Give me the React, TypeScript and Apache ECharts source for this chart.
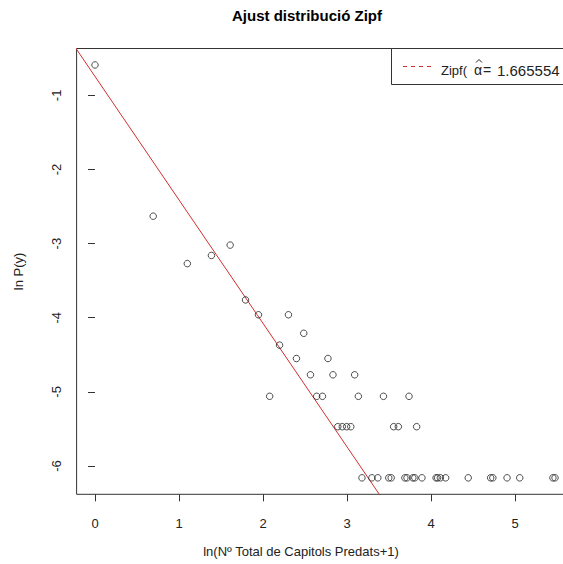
import React, { useEffect, useRef } from "react";
import * as echarts from "echarts";

const TITLE = "Ajust distribució Zipf";
const X_NAME = "ln(Nº Total de Capitols Predats+1)";
const Y_NAME = "ln P(y)";
const X_TICKS = [0, 1, 2, 3, 4, 5];
const Y_TICKS = [-6, -5, -4, -3, -2, -1];
const X_RANGE = [-0.219, 5.695];
const Y_RANGE = [-6.382, -0.368];

// observed points: x = ln(N+1), y = ln P(y)
const X_OBS = [
  0, 0.693, 1.099, 1.386, 1.609, 1.792, 1.946, 2.079, 2.197, 2.303, 2.398, 2.485,
  2.565, 2.639, 2.708, 2.773, 2.833, 2.89, 2.944, 2.996, 3.045, 3.091, 3.135,
  3.434, 3.555, 3.611, 3.738, 3.829,
  3.178, 3.296, 3.367, 3.497, 3.526, 3.689, 3.714, 3.784, 3.807, 3.892, 4.06,
  4.078, 4.111, 4.174, 4.443, 4.71, 4.736, 4.905, 5.056, 5.451, 5.476,
];
const Y_OBS = [
  -0.59, -2.63, -3.27, -3.16, -3.02, -3.76, -3.96, -5.06, -4.37, -3.96, -4.55, -4.21,
  -4.77, -5.06, -5.06, -4.55, -4.77, -5.47, -5.47, -5.47, -5.47, -4.77, -5.06,
  -5.06, -5.47, -5.47, -5.06, -5.47,
  -6.16, -6.16, -6.16, -6.16, -6.16, -6.16, -6.16, -6.16, -6.16, -6.16, -6.16,
  -6.16, -6.16, -6.16, -6.16, -6.16, -6.16, -6.16, -6.16, -6.16, -6.16,
];

// fitted Zipf line
const FIT_ALPHA = 1.665554;
const FIT_INTERCEPT = -0.745;
const FIT_X_ENDS = [-0.4, 3.6];
const LEGEND_NAME = "Zipf(";
const LEGEND_SYMBOL = "α";
const LEGEND_VALUE = "1.665554";

const FONT = "'Liberation Sans', Arial, sans-serif";
const RED = "#cf2f2f";
const AXIS_COLOR = "#333";
const TEXT_COLOR = "#222";

export default function App() {
  const ref = useRef<HTMLDivElement>(null);
  useEffect(() => {
    if (!ref.current) return;
    const chart = echarts.init(ref.current, undefined, { renderer: "svg" });
    const obs = X_OBS.map((x, i) => [x, Y_OBS[i]]);
    const fit = FIT_X_ENDS.map((x) => [x, FIT_INTERCEPT - FIT_ALPHA * x]);
    const txt = (text: string, x: number, y: number, font: string, align = "left") => ({
      type: "text",
      x,
      y,
      z: 11,
      style: {
        text,
        font,
        fill: TEXT_COLOR,
        textAlign: align,
        textVerticalAlign: "middle",
      },
    });
    chart.setOption({
      animation: false,
      backgroundColor: "#fff",
      grid: {
        left: 76.6,
        width: 496.8,
        top: 48.5,
        bottom: 69.7,
        outerBoundsMode: "none",
        containLabel: false,
        show: true,
        borderColor: AXIS_COLOR,
        borderWidth: 1,
        backgroundColor: "transparent",
      },
      xAxis: {
        type: "value",
        min: X_RANGE[0],
        max: X_RANGE[1],
        axisLine: { show: false },
        axisTick: {
          show: true,
          length: 7,
          customValues: X_TICKS,
          lineStyle: { color: AXIS_COLOR },
        },
        axisLabel: {
          customValues: X_TICKS,
          margin: 23,
          fontFamily: FONT,
          fontSize: 13,
          color: TEXT_COLOR,
        },
        splitLine: { show: false },
      },
      yAxis: {
        type: "value",
        min: Y_RANGE[0],
        max: Y_RANGE[1],
        name: Y_NAME,
        nameLocation: "middle",
        nameGap: 52,
        nameRotate: 90,
        nameTextStyle: { fontFamily: FONT, fontSize: 13, color: TEXT_COLOR },
        axisLine: { show: false },
        axisTick: {
          show: true,
          length: 7,
          customValues: Y_TICKS,
          lineStyle: { color: AXIS_COLOR },
        },
        axisLabel: {
          customValues: Y_TICKS,
          rotate: 90,
          margin: 14,
          fontFamily: FONT,
          fontSize: 13,
          color: TEXT_COLOR,
        },
        splitLine: { show: false },
      },
      series: [
        {
          type: "line",
          data: fit,
          showSymbol: false,
          clip: true,
          lineStyle: { color: RED, width: 1 },
          z: 2,
        },
        {
          type: "scatter",
          data: obs,
          symbol: "circle",
          symbolSize: 6.5,
          itemStyle: { color: "rgba(0,0,0,0)", borderColor: "#222", borderWidth: 1 },
          z: 3,
        },
      ],
      graphic: [
        {
          type: "text",
          x: 307,
          y: 15.5,
          style: {
            text: TITLE,
            font: `bold 15px ${FONT}`,
            fill: "#000",
            textAlign: "center",
            textVerticalAlign: "middle",
          },
        },
        {
          type: "text",
          x: 301,
          y: 551,
          style: {
            text: X_NAME,
            font: `13px ${FONT}`,
            fill: TEXT_COLOR,
            textAlign: "center",
            textVerticalAlign: "middle",
          },
        },
        {
          type: "rect",
          shape: { x: 391.5, y: 48.5, width: 200, height: 36 },
          style: { fill: "#fff", stroke: AXIS_COLOR, lineWidth: 1 },
          z: 10,
        },
        {
          type: "line",
          shape: { x1: 403, y1: 66.5, x2: 431, y2: 66.5 },
          style: { stroke: RED, lineWidth: 1, lineDash: [4, 4] },
          z: 11,
        },
        txt(LEGEND_NAME, 441, 70, `13px ${FONT}`),
        txt(LEGEND_SYMBOL, 474, 70, `14px ${FONT}`),
        {
          type: "polyline",
          shape: { points: [[476, 62.5], [479, 59.5], [482, 62.5]] },
          style: { stroke: TEXT_COLOR, lineWidth: 1, fill: null },
          z: 11,
        },
        txt("=", 483, 70, `14px ${FONT}`),
        txt(LEGEND_VALUE, 497, 70, `15px ${FONT}`),
      ],
    });
    return () => chart.dispose();
  }, []);
  return (
    <div
      ref={ref}
      style={{ position: "absolute", left: 0, top: 0, width: 563, height: 564 }}
    />
  );
}
